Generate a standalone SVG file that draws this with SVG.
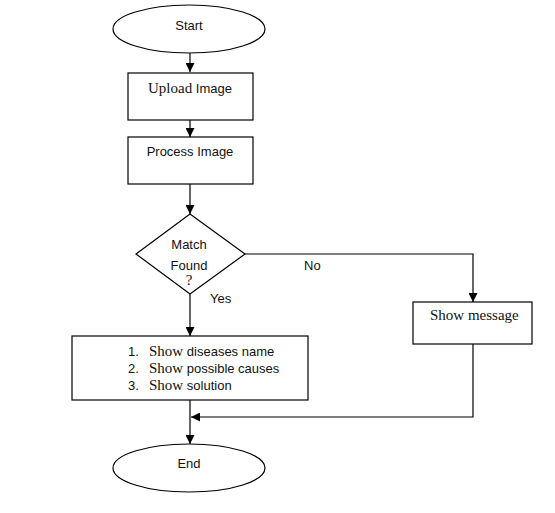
<svg xmlns="http://www.w3.org/2000/svg" width="555" height="513" viewBox="0 0 555 513">
<defs>
<marker id="arr" viewBox="0 0 10 10" refX="10" refY="5" markerWidth="9" markerHeight="9" markerUnits="userSpaceOnUse" orient="auto">
<path d="M0,0 L10,5 L0,10 Z" fill="#000"/>
</marker>
<style>
.shape{fill:#fff;stroke:#000;stroke-width:1.2}
.conn{fill:none;stroke:#000;stroke-width:1.2}
.sans{font-family:"Liberation Sans",Arial,sans-serif;font-size:13px;fill:#111}
.serif{font-family:"Liberation Serif","Times New Roman",serif;font-size:15px;fill:#111}
</style>
</defs>
<rect width="555" height="513" fill="#fff"/>
<g id="connectors">
<path class="conn" d="M190,53 V72" marker-end="url(#arr)"/>
<path class="conn" d="M190,120 V137" marker-end="url(#arr)"/>
<path class="conn" d="M190,184 V214" marker-end="url(#arr)"/>
<path class="conn" d="M190,294 V336" marker-end="url(#arr)"/>
<path class="conn" d="M245,254 H473 V302" marker-end="url(#arr)"/>
<path class="conn" d="M473,344 V417 H191" marker-end="url(#arr)"/>
<path class="conn" d="M190,400 V444" marker-end="url(#arr)"/>
</g>
<g id="start">
<ellipse class="shape" cx="189" cy="29" rx="76" ry="24"/>
<text class="sans" x="189" y="30" text-anchor="middle">Start</text>
</g>
<g id="upload">
<rect class="shape" x="128" y="73" width="125" height="47"/>
<text x="190" y="93" text-anchor="middle"><tspan class="serif">Upload</tspan><tspan class="sans"> Image</tspan></text>
</g>
<g id="process">
<rect class="shape" x="128" y="137" width="125" height="47"/>
<text class="sans" x="190" y="156" text-anchor="middle">Process Image</text>
</g>
<g id="decision">
<polygon class="shape" points="190,214 245,254 190,294 136,254"/>
<text class="sans" x="189" y="249" text-anchor="middle">Match</text>
<text class="sans" x="189" y="270" text-anchor="middle">Found</text>
<text class="serif" x="189" y="285" text-anchor="middle" font-size="14">?</text>
</g>
<g id="labels">
<text class="sans" x="210" y="303">Yes</text>
<text class="sans" x="304" y="270">No</text>
</g>
<g id="results">
<rect class="shape" x="72" y="336" width="236" height="64"/>
<text x="128" y="356"><tspan class="sans">1.</tspan><tspan class="serif" x="149">Show</tspan><tspan class="sans"> diseases name</tspan></text>
<text x="128" y="373"><tspan class="sans">2.</tspan><tspan class="serif" x="149">Show</tspan><tspan class="sans"> possible causes</tspan></text>
<text x="128" y="390"><tspan class="sans">3.</tspan><tspan class="serif" x="149">Show</tspan><tspan class="sans"> solution</tspan></text>
</g>
<g id="message">
<rect class="shape" x="413" y="302" width="119" height="42"/>
<text class="serif" x="430" y="320">Show message</text>
</g>
<g id="end">
<ellipse class="shape" cx="189" cy="468" rx="76" ry="24"/>
<text class="sans" x="189" y="468" text-anchor="middle">End</text>
</g>
</svg>
